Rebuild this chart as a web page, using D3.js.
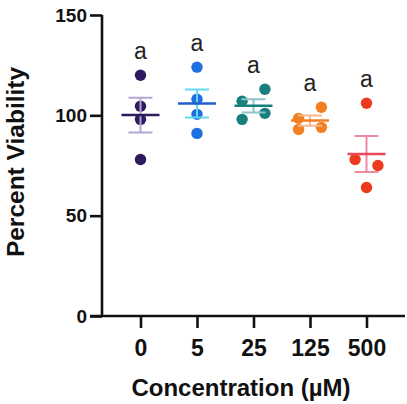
<!DOCTYPE html>
<html>
<head>
<meta charset="utf-8">
<script src="https://cdn.jsdelivr.net/npm/d3@7"></script>
<style>
  body { margin: 0; background: #fff; }
  svg text { font-family: "Liberation Sans", Arial, sans-serif; }
</style>
</head>
<body>
<div class="chart"></div>
<script>
// values (percent viability, n = 4 per dose)
const concentrations = ["0", "5", "25", "125", "500"];
const viability0   = [120, 104.5, 98, 78];
const viability5   = [124, 108, 100.5, 91];
const viability25  = [107, 113, 98, 101];
const viability125 = [98.5, 104, 93, 94];
const viability500 = [106, 78, 75, 64];
const letters = ["a", "a", "a", "a", "a"];
const yTicks = [0, 50, 100, 150];

const dotColors  = ["#2d1b5e", "#1f6fe0", "#16807f", "#f28022", "#ec3a1e"];
const meanColors = ["#2d1b5e", "#1f5fd0", "#16807f", "#f28022", "#e8485a"];
const semColors  = ["#b3a6d4", "#62d8f2", "#8cc4c8", "#f8b88a", "#ec8ca0"];

const groups = [viability0, viability5, viability25, viability125, viability500]
  .map((vals, i) => ({
    conc: concentrations[i],
    vals: vals,
    mean: d3.mean(vals),
    sem: d3.deviation(vals) / Math.sqrt(vals.length),
    letter: letters[i],
    i: i
  }));

const width = 407, height = 404;
const svg = d3.select('div.chart').append('svg')
  .attr('width', width).attr('height', height);

const x = d3.scalePoint().domain(concentrations).range([140.5, 366.5]);
const y = d3.scaleLinear().domain([0, 150]).range([316, 15]);

const r = 5.7;
const pairGap = 6.25; // points closer than this (in %) sit side by side

// very rough version of prism's scatter: close neighbours split left/right
function offsets(vals) {
  const idx = d3.range(vals.length).sort((a, b) => vals[a] - vals[b]);
  const dx = vals.map(() => 0);
  for (let k = 0; k < idx.length - 1; k++) {
    const a = idx[k], b = idx[k + 1];
    if (vals[b] - vals[a] < pairGap) {
      const left = Math.min(a, b), right = Math.max(a, b);
      dx[left] = -(2 * r);
      dx[right] = 2 * r;
      k++;
    }
  }
  return dx;
}

// axes
const yAxis = svg.append('g')
  .attr('transform', `translate(102,0)`)
  .call(d3.axisLeft(y).tickValues(yTicks).tickSize(12).tickPadding(3));
yAxis.select('.domain').attr('d', `M0,${y(0)}V${y(150)}`);

const xAxis = svg.append('g')
  .attr('transform', `translate(0,${y(0)})`)
  .call(d3.axisBottom(x).tickSize(12).tickPadding(12));
xAxis.select('.domain').attr('d', `M90,0H405`);

svg.selectAll('.domain, .tick line')
  .attr('stroke', '#111').attr('stroke-width', 2.6);
yAxis.selectAll('.tick text')
  .attr('font-size', 19).attr('font-weight', 'bold').attr('fill', '#111');
xAxis.selectAll('.tick text')
  .attr('font-size', 23).attr('font-weight', 'bold').attr('fill', '#111');

// axis titles
svg.append('text')
  .attr('x', 241).attr('y', 396)
  .attr('text-anchor', 'middle')
  .attr('font-size', 24).attr('font-weight', 'bold').attr('fill', '#111')
  .text('Concentration (µM)');

svg.append('text')
  .attr('transform', 'translate(24,162) rotate(-90)')
  .attr('text-anchor', 'middle')
  .attr('font-size', 24.5).attr('font-weight', 'bold').attr('fill', '#111')
  .text('Percent Viability');

// groups
const g = svg.append('g').selectAll('g')
  .data(groups)
  .enter().append('g')
    .attr('transform', d => `translate(${x(d.conc)},0)`);

g.each(function(d) {
  const sel = d3.select(this);
  const dx = offsets(d.vals);
  sel.selectAll('circle')
    .data(d.vals)
    .enter().append('circle')
      .attr('cx', (v, j) => dx[j])
      .attr('cy', v => y(v))
      .attr('r', r)
      .attr('fill', dotColors[d.i]);

  // sem whisker + caps
  const semPath = d3.path();
  semPath.moveTo(0, y(d.mean + d.sem)); semPath.lineTo(0, y(d.mean - d.sem));
  semPath.moveTo(-12, y(d.mean + d.sem)); semPath.lineTo(12, y(d.mean + d.sem));
  semPath.moveTo(-12, y(d.mean - d.sem)); semPath.lineTo(12, y(d.mean - d.sem));
  sel.append('path')
    .attr('d', semPath.toString())
    .attr('fill', 'none')
    .attr('stroke', semColors[d.i])
    .attr('stroke-width', 2);

  sel.append('line')
    .attr('x1', -19).attr('x2', 19)
    .attr('y1', y(d.mean)).attr('y2', y(d.mean))
    .attr('stroke', meanColors[d.i])
    .attr('stroke-width', 2.5);

  sel.append('text')
    .attr('x', 0)
    .attr('y', y(d3.max(d.vals)) - 16)
    .attr('text-anchor', 'middle')
    .attr('font-size', 23)
    .attr('fill', '#222')
    .text(d.letter);
});
</script>
</body>
</html>
